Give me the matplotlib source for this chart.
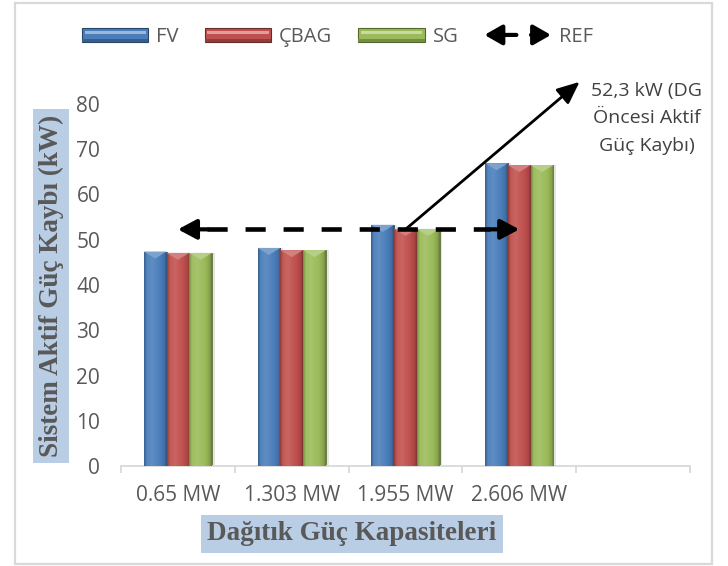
import numpy as np
import matplotlib
matplotlib.use("Agg")
import matplotlib.pyplot as plt
from matplotlib.patches import Rectangle, Polygon, FancyArrowPatch
from matplotlib.legend_handler import HandlerBase
from matplotlib.colors import to_rgb

# ---- data ----
categories = ["0.65 MW", "1.303 MW", "1.955 MW", "2.606 MW", ""]
series_names = ["FV", "ÇBAG", "SG"]
fv_values = [47.4, 48.2, 53.3, 66.9]
cbag_values = [47.1, 47.7, 52.4, 66.5]
sg_values = [47.1, 47.7, 52.4, 66.5]
ref_value = 52.3
ref_label = "REF"
note_text = "52,3 kW (DG\nÖncesi Aktif\nGüç Kaybı)"
y_ticks = [0, 10, 20, 30, 40, 50, 60, 70, 80]
y_label = "Sistem Aktif Güç Kaybı (kW)"
x_label = "Dağıtık Güç Kapasiteleri"

base_colors = ["#4a7ebb", "#c0504d", "#9bbb59"]
text_gray = "#595959"
box_blue = "#b9cde5"
tick_font = "Open Sans"
serif_font = "Liberation Serif"

W, H = 728, 566
fig = plt.figure(figsize=(W / 100, H / 100), dpi=100)

# outer frame
fig.patches.append(Rectangle((15 / W, 2 / H), 697 / W, 561 / H, transform=fig.transFigure,
                             fill=False, edgecolor="#d9d9d9", lw=1.6))

ax = fig.add_axes([121 / W, 100 / H, 569 / W, 362 / H])
ax.set_xlim(-0.5, len(categories) - 0.5)
ax.set_ylim(0, 80)


def shade(c, f):
    r, g, b = to_rgb(c)
    if f >= 0:
        return (r + (1 - r) * f, g + (1 - g) * f, b + (1 - b) * f)
    return (r * (1 + f), g * (1 + f), b * (1 + f))


def gradient_row(c):
    stops = [(0.0, shade(c, -0.25)), (0.12, shade(c, 0.05)), (0.35, shade(c, 0.12)),
             (0.7, to_rgb(c)), (0.9, shade(c, -0.12)), (1.0, shade(c, -0.35))]
    xs = np.linspace(0, 1, 64)
    pos = [s[0] for s in stops]
    row = np.zeros((1, 64, 3))
    for k in range(3):
        row[0, :, k] = np.interp(xs, pos, [s[1][k] for s in stops])
    return row


bar_w = 0.2
all_values = [fv_values, cbag_values, sg_values]
px_per_unit = 362 / 80
cap = 7 / px_per_unit
for s, (vals, col) in enumerate(zip(all_values, base_colors)):
    xs = np.arange(len(vals)) + (s - 1) * bar_w
    # soft shadow
    ax.bar(xs + 0.025, vals, width=bar_w, color="#000000", alpha=0.10, zorder=1)
    bars = ax.bar(xs, vals, width=bar_w, color=col, edgecolor=shade(col, -0.4), lw=0.6, zorder=2)
    grad = gradient_row(col)
    for b, v in zip(bars, vals):
        x0 = b.get_x()
        x1 = x0 + b.get_width()
        im = ax.imshow(grad, extent=(x0, x1, 0, v), aspect="auto", zorder=3, interpolation="bilinear")
        im.set_clip_path(b)
        tri = Polygon([(x0, v), (x1, v), ((x0 + x1) / 2, v - cap)], closed=True,
                      facecolor=shade(col, 0.28), edgecolor="none", zorder=4)
        ax.add_patch(tri)

# reference line with arrowheads at both ends
ref_x0, ref_x1 = 0.0, 3.0
head = 0.26
ax.plot([ref_x0 + head, ref_x1 - head], [ref_value, ref_value], color="black", lw=3.3,
        linestyle=(0, (4.4, 3.9)), dash_capstyle="butt", zorder=6)
for tip, tail in [(ref_x0, ref_x0 + head), (ref_x1, ref_x1 - head)]:
    ax.annotate("", xy=(tip, ref_value), xytext=(tail, ref_value),
                arrowprops=dict(arrowstyle="-|>,head_length=0.75,head_width=0.4", lw=3.0,
                                color="black", shrinkA=0, shrinkB=0, mutation_scale=15),
                zorder=6)

# callout
ax.annotate("", xy=(3.53, 84.9), xytext=(2.0, ref_value),
            arrowprops=dict(arrowstyle="-|>,head_length=0.8,head_width=0.35", lw=2,
                            color="black", shrinkA=0, shrinkB=0, mutation_scale=17),
            annotation_clip=False, zorder=7)
ax.text(4.12, 76.9, note_text, ha="center", va="center", fontsize=14, family=tick_font,
        color="#404040", linespacing=1.68, clip_on=False)

# axes styling
for side in ["top", "right", "left"]:
    ax.spines[side].set_visible(False)
ax.spines["bottom"].set_color("#d9d9d9")
ax.spines["bottom"].set_linewidth(1.3)
ax.set_yticks(y_ticks)
ax.set_yticklabels([str(t) for t in y_ticks])
ax.tick_params(axis="y", length=0, pad=15, labelsize=15, labelcolor=text_gray)
ax.set_xticks(np.arange(len(categories)))
ax.set_xticklabels(categories)
ax.tick_params(axis="x", which="major", length=0, pad=14, labelsize=15, labelcolor=text_gray)
ax.set_xticks(np.arange(len(categories) + 1) - 0.5, minor=True)
ax.tick_params(axis="x", which="minor", length=5, color="#d9d9d9", width=1.3)
for lab in ax.get_xticklabels() + ax.get_yticklabels():
    lab.set_family(tick_font)

# axis titles in shaded boxes
fig.text(51 / W, 1 - 286 / H, y_label, rotation=90, ha="center", va="center",
         family=serif_font, weight="bold", fontsize=19.5, color=text_gray,
         bbox=dict(boxstyle="square,pad=0.2", facecolor=box_blue, edgecolor="none"))
fig.text(352 / W, 1 - 534 / H, x_label, ha="center", va="center",
         family=serif_font, weight="bold", fontsize=19.5, color=text_gray,
         bbox=dict(boxstyle="square,pad=0.25", facecolor=box_blue, edgecolor="none"))


# legend handles
class BevelHandler(HandlerBase):
    def __init__(self, color):
        super().__init__()
        self.color = color

    def create_artists(self, legend, orig_handle, xd, yd, width, height, fontsize, trans):
        c = self.color
        base = Rectangle((-xd, -yd), width, height, facecolor=c, edgecolor=shade(c, -0.45),
                         lw=0.8, transform=trans)
        band = Rectangle((-xd + 0.04 * width, -yd + 0.55 * height), 0.92 * width, 0.22 * height,
                         facecolor=shade(c, 0.45), edgecolor="none", transform=trans)
        low = Rectangle((-xd, -yd), width, 0.2 * height, facecolor=shade(c, -0.25),
                        edgecolor="none", transform=trans)
        return [base, low, band]


class ArrowPairHandler(HandlerBase):
    def create_artists(self, legend, orig_handle, xd, yd, width, height, fontsize, trans):
        y = -yd + height / 2
        style = "-|>,head_length=0.7,head_width=0.4"
        a1 = FancyArrowPatch((-xd + 0.48 * width, y), (-xd, y), arrowstyle=style,
                             mutation_scale=15, lw=3.0, color="black", shrinkA=0, shrinkB=0,
                             transform=trans)
        a2 = FancyArrowPatch((-xd + 0.7 * width, y), (-xd + width, y), arrowstyle=style,
                             mutation_scale=15, lw=3.0, color="black", shrinkA=0, shrinkB=0,
                             transform=trans)
        return [a1, a2]


handles = [Rectangle((0, 0), 1, 1) for _ in range(4)]
handler_map = {handles[i]: BevelHandler(base_colors[i]) for i in range(3)}
handler_map[handles[3]] = ArrowPairHandler()
leg = fig.legend(handles, series_names + [ref_label], handler_map=handler_map,
                 loc="center left", bbox_to_anchor=(82 / W, 1 - 37 / H), ncol=4, frameon=False,
                 borderpad=0, borderaxespad=0, handlelength=3.3, handleheight=0.65,
                 handletextpad=0.38, columnspacing=1.3,
                 prop={"family": tick_font, "size": 14.5})
for t in leg.get_texts():
    t.set_color(text_gray)

fig.savefig("out.png", dpi=100)
